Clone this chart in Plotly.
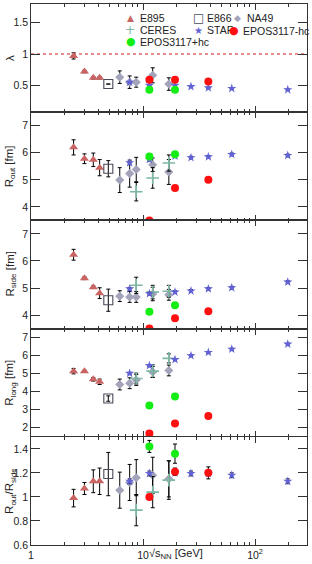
import plotly.graph_objects as go
from plotly.subplots import make_subplots

# ---------------- data (sqrt(s_NN) in GeV) ----------------
e895_x = [2.4, 3.0, 3.6, 4.1]
e866_x = [4.9]
na49_x = [6.2, 7.6, 8.7, 12.2, 17.0]
ceres_x = [8.7, 12.2, 17.0]
star_x = [7.6, 11.4, 19.3, 26.8, 38.3, 62.0, 196.0]
eposm_x = [11.4, 19.3, 38.3]   # EPOS3117-hc
eposp_x = [11.4, 19.3]         # EPOS3117+hc

# lambda
e895_lam = [0.97, 0.72, 0.62, 0.62]
e895_lam_err = [0.05, 0.02, 0.02, 0.02]
e866_lam = [0.52]
e866_lam_err = [0.0]
na49_lam = [0.63, 0.55, 0.55, 0.66, 0.52]
na49_lam_err = [0.10, 0.10, 0.08, 0.12, 0.10]
star_lam = [0.55, 0.50, 0.50, 0.48, 0.46, 0.45, 0.43]
star_lam_err = [0.01] * 7
eposm_lam = [0.59, 0.59, 0.56]
eposp_lam = [0.43, 0.43]

# R_out
e895_out = [6.20, 5.78, 5.74, 5.45]
e895_out_err = [0.28, 0.18, 0.25, 0.30]
e866_out = [5.41]
e866_out_err = [0.30]
na49_out = [4.99, 5.23, 5.38, 5.56, 5.29]
na49_out_err = [0.46, 0.50, 0.45, 0.25, 0.46]
ceres_out = [4.56, 5.07, 5.62]
ceres_out_err = [0.34, 0.38, 0.30]
star_out = [5.63, 5.75, 5.88, 5.82, 5.85, 5.94, 5.90]
star_out_err = [0.05] * 7
eposm_out = [3.50, 4.70, 5.00]
eposp_out = [5.86, 5.95]

# R_side
e895_side = [6.23, 5.36, 5.03, 4.81]
e895_side_err = [0.20, 0.05, 0.05, 0.20]
e866_side = [4.55]
e866_side_err = [0.41]
na49_side = [4.70, 4.67, 4.67, 4.78, 4.75]
na49_side_err = [0.20, 0.20, 0.20, 0.25, 0.20]
ceres_side = [5.10, 4.85, 4.88]
ceres_side_err = [0.30, 0.25, 0.22]
star_side = [4.97, 4.79, 4.85, 4.89, 4.97, 5.01, 5.22]
star_side_err = [0.05] * 7
eposm_side = [3.50, 3.88, 4.14]
eposp_side = [4.12, 4.36]

# R_long
e895_long = [5.14, 5.14, 4.69, 4.55]
e895_long_err = [0.15, 0.05, 0.10, 0.15]
e866_long = [3.62]
e866_long_err = [0.15]
na49_long = [4.40, 4.47, 4.65, 5.10, 5.18]
na49_long_err = [0.30, 0.30, 0.30, 0.30, 0.30]
ceres_long = [4.73, 5.14, 5.85]
ceres_long_err = [0.30, 0.35, 0.25]
star_long = [5.02, 5.45, 5.78, 6.00, 6.18, 6.36, 6.64]
star_long_err = [0.05] * 7
eposm_long = [1.68, 2.24, 2.65]
eposp_long = [3.23, 3.73]

# R_out / R_side
e895_rat = [0.99, 1.07, 1.13, 1.13]
e895_rat_err = [0.073, 0.05, 0.095, 0.11]
e866_rat = [1.19]
e866_rat_err = [0.18]
na49_rat = [1.056, 1.12, 1.16, 1.18, 1.15]
na49_rat_err = [0.15, 0.15, 0.15, 0.15, 0.15]
ceres_rat = [0.89, 1.04, 1.14]
ceres_rat_err = [0.13, 0.13, 0.16]
star_rat = [1.13, 1.195, 1.20, 1.195, 1.195, 1.18, 1.13]
star_rat_err = [0.02] * 7
eposm_rat = [1.00, 1.21, 1.20]
eposm_rat_err = [0.0, 0.03, 0.05]
eposp_rat = [1.42, 1.36]
eposp_rat_err = [0.05, 0.08]

y_ranges = [[0.07, 1.8], [3.5, 7.5], [3.5, 7.5], [1.5, 7.5], [0.6, 1.5]]
y_ticks = [[0.5, 1, 1.5], [4, 5, 6, 7], [4, 5, 6, 7], [2, 3, 4, 5, 6, 7],
           [0.6, 0.8, 1.0, 1.2, 1.4]]
y_ticktext = [["0.5", "1", "1.5"], ["4", "5", "6", "7"], ["4", "5", "6", "7"],
              ["2", "3", "4", "5", "6", "7"], ["0.6", "0.8", "1", "1.2", "1.4"]]
y_titles = ["λ", "R<sub>out</sub> [fm]", "R<sub>side</sub> [fm]",
            "R<sub>long</sub> [fm]", "R<sub>out</sub>/R<sub>side</sub>"]
x_tickvals = [1, 10, 100]
x_ticktext = ["1", "10", "10<sup>2</sup>"]
x_minor = [2, 3, 4, 5, 6, 7, 8, 9, 20, 30, 40, 50, 60, 70, 80, 90, 200]

# ---------------- styles ----------------
C_E895 = "#c96463"
C_E866 = "#4a4a5a"
C_NA49 = "#a3a3ba"
C_CERES = "#7cb8a4"
C_STAR = "#6262d6"
C_RED = "#ff1010"
C_GREEN = "#14ee14"
FONT = "Liberation Sans, Arial, sans-serif"

fig = make_subplots(rows=5, cols=1, shared_xaxes=True, vertical_spacing=0)


def err(vals):
    return dict(type="data", array=vals, visible=True, color="black",
                thickness=1, width=2)


panels = [
    dict(e895=(e895_lam, e895_lam_err), e866=(e866_lam, e866_lam_err),
         na49=(na49_lam, na49_lam_err), ceres=None, star=(star_lam, star_lam_err),
         eposm=(eposm_lam, None), eposp=(eposp_lam, None)),
    dict(e895=(e895_out, e895_out_err), e866=(e866_out, e866_out_err),
         na49=(na49_out, na49_out_err), ceres=(ceres_out, ceres_out_err),
         star=(star_out, star_out_err), eposm=(eposm_out, None), eposp=(eposp_out, None)),
    dict(e895=(e895_side, e895_side_err), e866=(e866_side, e866_side_err),
         na49=(na49_side, na49_side_err), ceres=(ceres_side, ceres_side_err),
         star=(star_side, star_side_err), eposm=(eposm_side, None), eposp=(eposp_side, None)),
    dict(e895=(e895_long, e895_long_err), e866=(e866_long, e866_long_err),
         na49=(na49_long, na49_long_err), ceres=(ceres_long, ceres_long_err),
         star=(star_long, star_long_err), eposm=(eposm_long, None), eposp=(eposp_long, None)),
    dict(e895=(e895_rat, e895_rat_err), e866=(e866_rat, e866_rat_err),
         na49=(na49_rat, na49_rat_err), ceres=(ceres_rat, ceres_rat_err),
         star=(star_rat, star_rat_err), eposm=(eposm_rat, eposm_rat_err),
         eposp=(eposp_rat, eposp_rat_err)),
]

series = [
    ("e895", "E895", e895_x, dict(symbol="triangle-up", size=8, color=C_E895)),
    ("e866", "E866", e866_x, dict(symbol="square-open", size=9, color=C_E866,
                                  line=dict(width=1.1, color=C_E866))),
    ("na49", "NA49", na49_x, dict(symbol="diamond", size=7, color=C_NA49)),
    ("ceres", "CERES", ceres_x, dict(symbol="cross-thin", size=9, color=C_CERES,
                                     line=dict(width=1.6, color=C_CERES))),
    ("star", "STAR", star_x, dict(symbol="star", size=7, color=C_STAR)),
    ("eposm", "EPOS3117-hc", eposm_x, dict(symbol="circle", size=8, color=C_RED)),
    ("eposp", "EPOS3117+hc", eposp_x, dict(symbol="circle", size=8, color=C_GREEN)),
]

for i, p in enumerate(panels):
    row = i + 1
    for key, name, xs, mk in series:
        d = p[key]
        if d is None:
            continue
        yv, ye = d
        fig.add_trace(go.Scatter(
            x=xs, y=yv, mode="markers", name=name, showlegend=False,
            marker=mk, error_y=err(ye) if ye is not None else None,
        ), row=row, col=1)

# ---------------- axes ----------------
H = 544.0
for i in range(5):
    row = i + 1
    top = 1 - 0.2 * i
    bot = top - 0.2
    fig.update_yaxes(
        row=row, col=1, domain=[max(bot, 0), min(top, 1)],
        range=y_ranges[i], tickvals=y_ticks[i], ticktext=y_ticktext[i],
        showline=True, linecolor="#333", linewidth=0.8, mirror="allticks",
        ticks="inside", ticklen=9, tickcolor="#333", tickwidth=1,
        showgrid=False, zeroline=False,
        tickfont=dict(family=FONT, size=10.5, color="#222"),
    )
    fig.update_xaxes(
        row=row, col=1, type="log", range=[0, 2.464],
        tickvals=x_tickvals, ticktext=x_ticktext,
        showticklabels=(row == 5),
        showline=True, linecolor="#333", linewidth=0.8, mirror="allticks",
        ticks="inside", ticklen=6, tickcolor="#333", tickwidth=1,
        minor=dict(tickvals=x_minor, ticks="inside", ticklen=3,
                   tickcolor="#333", tickwidth=1),
        showgrid=False, zeroline=False,
        tickfont=dict(family=FONT, size=10.5, color="#222"),
    )

# dashed reference lines at 1 (lambda and ratio panels)
for yref in ["y", "y5"]:
    fig.add_shape(type="line", xref="x domain", yref=yref, x0=0, x1=1,
                  y0=1, y1=1, line=dict(color="#e26a6a", width=1.6, dash="3px,3px"),
                  layer="below")

# y-axis titles
for i, t in enumerate(y_titles):
    yr = "y domain" if i == 0 else f"y{i+1} domain"
    fig.add_annotation(text=t, xref="paper", yref=yr, x=-0.076, y=0.5,
                       textangle=-90, showarrow=False, xanchor="center",
                       yanchor="middle",
                       font=dict(family=FONT, size=11.5, color="#222"))

# x-axis title
def px(xp):
    return (xp - 31) / 276.0


def py(yp):
    return (547 - yp) / H


fig.add_annotation(text="√s<sub>NN</sub> [GeV]", xref="paper", yref="paper",
                   x=px(147), y=py(556), xanchor="left", yanchor="middle",
                   showarrow=False, font=dict(family=FONT, size=11, color="#222"))

# legend (key)
legend_items = [
    ("▲", C_E895, 9, 130, 17.5, "E895", 138),
    ("□", C_E866, 12, 198.5, 17.5, "E866", 205),
    ("◆", C_NA49, 9, 237.5, 17, "NA49", 245),
    ("+", C_CERES, 12, 130, 29, "CERES", 138),
    ("★", C_STAR, 10, 198.5, 29.5, "STAR", 205),
    ("●", C_RED, 11, 233.5, 30, "EPOS3117-hc", 240.5),
    ("●", C_GREEN, 11, 130.5, 41, "EPOS3117+hc", 138),
]
for sym, col, sz, mx, my, label, tx in legend_items:
    fig.add_annotation(text=label, xref="paper", yref="paper", x=px(tx), y=py(my),
                       xanchor="left", yanchor="middle", showarrow=False,
                       font=dict(family=FONT, size=10.5, color="#222"))
    fig.add_annotation(text=sym, xref="paper", yref="paper", x=px(mx), y=py(my),
                       xanchor="center", yanchor="middle", showarrow=False,
                       font=dict(family="DejaVu Sans", size=sz, color=col))

fig.update_layout(
    width=312, height=564,
    margin=dict(l=31, r=5, t=3, b=17),
    paper_bgcolor="white", plot_bgcolor="white",
    showlegend=False,
)

fig.write_html("out.html")
